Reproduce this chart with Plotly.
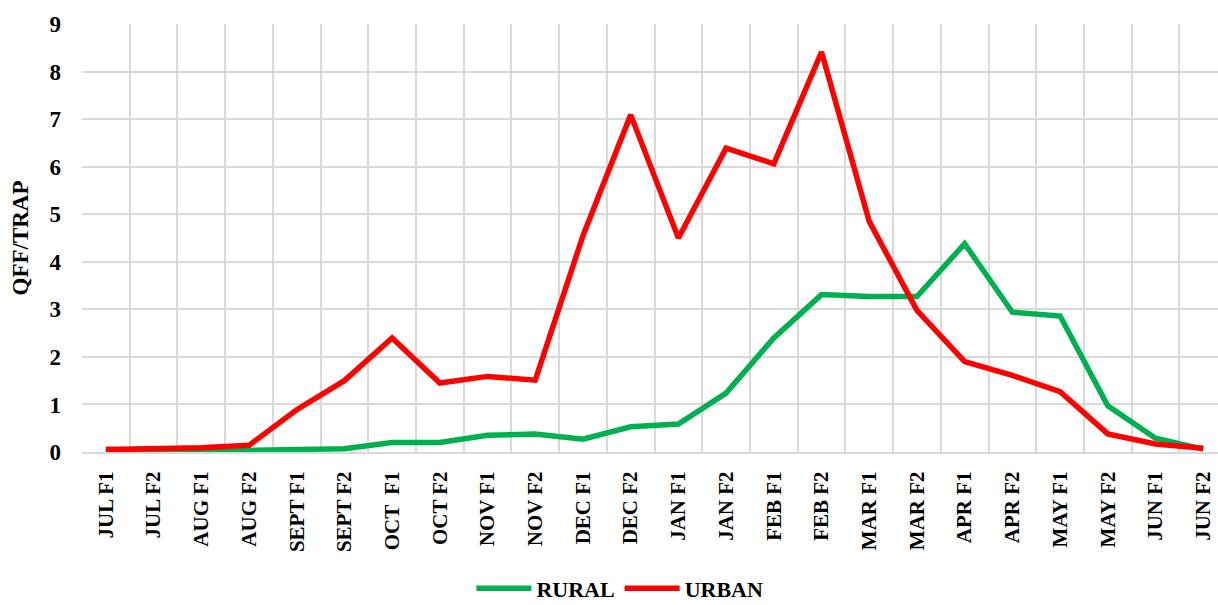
import plotly.graph_objects as go

categories = ["JUL F1", "JUL F2", "AUG F1", "AUG F2", "SEPT F1", "SEPT F2",
              "OCT  F1", "OCT F2", "NOV F1", "NOV F2", "DEC F1", "DEC F2",
              "JAN F1", "JAN F2", "FEB F1", "FEB F2", "MAR F1", "MAR F2",
              "APR F1", "APR F2", "MAY F1", "MAY F2", "JUN F1", "JUN F2"]

rural = [0.05, 0.02, 0.02, 0.03, 0.04, 0.07, 0.20, 0.20, 0.35, 0.38, 0.27, 0.53,
         0.59, 1.24, 2.40, 3.31, 3.27, 3.27, 4.38, 2.94, 2.86, 0.97, 0.29, 0.06]

urban = [0.05, 0.06, 0.09, 0.14, 0.89, 1.50, 2.40, 1.45, 1.59, 1.51, 4.55, 7.09,
         4.50, 6.39, 6.06, 8.41, 4.85, 2.98, 1.90, 1.61, 1.27, 0.38, 0.17, 0.08]

y_ticks = [0, 1, 2, 3, 4, 5, 6, 7, 8, 9]

FONT = "Liberation Serif"
GRID = "#D9D9D9"

fig = go.Figure()
fig.add_trace(go.Scatter(x=categories, y=rural, name="RURAL", mode="lines",
                         line=dict(color="#00B050", width=5.5)))
fig.add_trace(go.Scatter(x=categories, y=urban, name="URBAN", mode="lines",
                         line=dict(color="#FF0000", width=5.5)))

fig.update_layout(
    width=1218, height=605,
    margin=dict(l=82, r=0, t=24, b=153, autoexpand=False),
    paper_bgcolor="white", plot_bgcolor="white",
    font=dict(family=FONT, color="black", weight="bold"),
    showlegend=True,
    legend=dict(orientation="h", xref="paper", yref="paper",
                x=0.4735, xanchor="center", y=-0.319, yanchor="middle",
                font=dict(family=FONT, size=22, color="black", weight="bold"),
                itemwidth=55, tracegroupgap=0),
    xaxis=dict(
        type="category", categoryorder="array", categoryarray=categories,
        range=[-0.5, 23.31], tickson="boundaries",
        showgrid=True, gridcolor=GRID, gridwidth=1.6,
        showline=True, linecolor=GRID, linewidth=2,
        ticks="", tickangle=-90, ticklabelstandoff=9,
        tickfont=dict(family=FONT, size=21, color="black", weight="bold"),
    ),
    yaxis=dict(
        range=[0, 9.001], tickvals=y_ticks,
        showgrid=True, gridcolor=GRID, gridwidth=1.6,
        zeroline=False, showline=False,
        ticks="", ticklabelstandoff=20,
        tickfont=dict(family=FONT, size=23, color="black", weight="bold"),
        title=dict(text="QFF/TRAP",
                   font=dict(family=FONT, size=23, color="black", weight="bold"),
                   standoff=14),
    ),
)

fig.write_html("out.html", config={"displayModeBar": False},
               post_script="document.body.style.margin='0';")
